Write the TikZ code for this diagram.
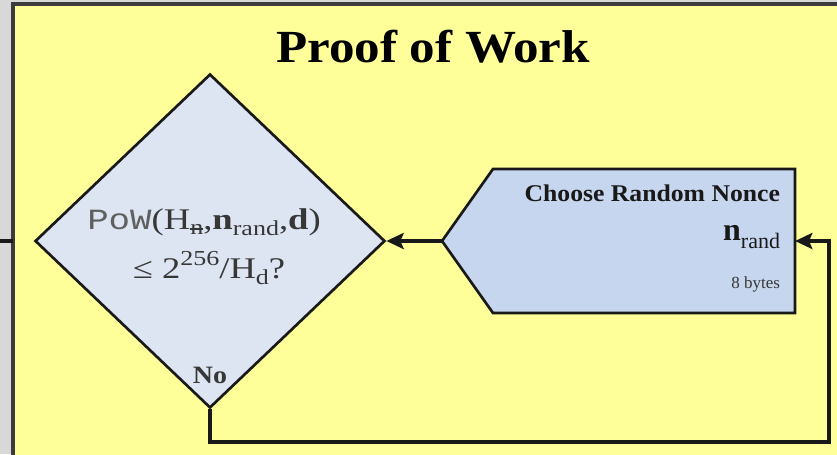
\documentclass[tikz,border=0pt]{standalone}
\usepackage{fontspec}
\usepackage{graphicx}
\setmainfont{Liberation Serif}
\newfontfamily\powmono{Liberation Mono}
\usetikzlibrary{shapes.geometric,arrows.meta}
\definecolor{panelyellow}{RGB}{255,255,153}
\definecolor{bggray}{RGB}{216,216,216}
\definecolor{diafill}{RGB}{221,229,242}
\definecolor{pentfill}{RGB}{198,214,238}
\definecolor{inkdark}{RGB}{25,25,25}
\definecolor{txtgray}{RGB}{55,55,55}
\definecolor{monogray}{RGB}{95,95,95}
\newcommand\lowsub[2]{\raisebox{-#1}{\fontsize{16}{16}\selectfont #2}}
\newcommand\strn{\rlap{\rule[0.22em]{0.5em}{0.07em}}n}
\begin{document}
\begin{tikzpicture}[x=0.75pt,y=-0.75pt,
  conn/.style={draw=inkdark, line width=3pt},
  arr/.style={conn, -{Stealth[length=13pt,width=12pt,inset=2.5pt]}},
  shapeline/.style={draw=inkdark, line width=2pt, line join=miter},
  txt/.style={inner sep=0pt, outer sep=0pt}]
\useasboundingbox (0,0) rectangle (837,454);
\fill[bggray] (0,0) rectangle (837,454);
\filldraw[fill=panelyellow, draw=inkdark!85, line width=2.5pt] (13,4) rectangle (860,475);

% title
\node[txt, anchor=base, font=\bfseries\fontsize{34.5}{40}\selectfont] (title) at (433,62) {\scalebox{1.11}[1]{Proof of Work}};

% decision diamond
\node[diamond, shapeline, fill=diafill, minimum width=262.5pt, minimum height=250.5pt, inner sep=0pt] (pow) at (210,241) {};
\node[txt, anchor=base, font=\fontsize{22.5}{27}\selectfont, text=txtgray] (powl1) at (204,229)
  {\scalebox{1.22}[1]{{\powmono\fontsize{22}{24}\selectfont\color{monogray}PoW}(H\lowsub{4pt}{\strn},\textbf{n}\lowsub{4.5pt}{rand},\textbf{d})}};
\node[txt, anchor=base, font=\fontsize{22.5}{27}\selectfont, text=txtgray] (powl2) at (209,278)
  {\scalebox{1.22}[1]{≤ 2\raisebox{0.42em}{\fontsize{16}{16}\selectfont 256}/H\lowsub{4.5pt}{d}?}};
\node[txt, anchor=base, font=\bfseries\fontsize{18.75}{20}\selectfont, text=txtgray] (nolbl) at (210,383) {\scalebox{1.12}[1]{No}};

% nonce pentagon
\node[txt, minimum width=226.5pt, minimum height=108pt] (nonce) at (644,241) {};
\coordinate (noncetip) at (442,241);
\filldraw[shapeline, fill=pentfill] (noncetip) -- (nonce.north west) -- (nonce.north east) -- (nonce.south east) -- (nonce.south west) -- cycle;
\node[txt, anchor=base east, font=\bfseries\fontsize{18}{20}\selectfont, text=inkdark] (choose) at (780,201) {\scalebox{1.07}[1]{Choose Random Nonce}};
\node[txt, anchor=base east, text=inkdark] (nrand) at (780,240) {{\bfseries\fontsize{24}{24}\selectfont n}\raisebox{-6pt}{\fontsize{16.5}{16.5}\selectfont rand}};
\node[txt, anchor=base east, font=\fontsize{12.75}{14}\selectfont, text=txtgray] (bytes) at (780,288) {8 bytes};

% connectors
\draw[arr] (noncetip) -- (pow.east);
\coordinate (loopcorner) at (829,442);
\draw[arr] (pow.south) |- (loopcorner) |- (nonce.east);
\coordinate (stubin) at (13,241);
\coordinate (stubout) at (0,241);
\draw[conn] (stubout) -- (stubin);
\end{tikzpicture}
\end{document}
